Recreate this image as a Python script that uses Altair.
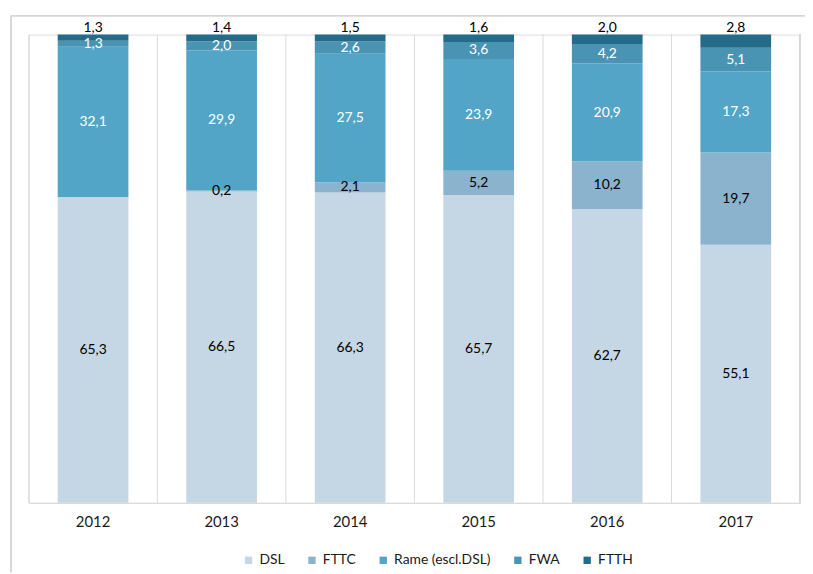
import altair as alt
import pandas as pd

years = ["2012", "2013", "2014", "2015", "2016", "2017"]
series = ["DSL", "FTTC", "Rame (escl.DSL)", "FWA", "FTTH"]
DSL = [65.3, 66.5, 66.3, 65.7, 62.7, 55.1]
FTTC = [0.0, 0.2, 2.1, 5.2, 10.2, 19.7]
RAME = [32.1, 29.9, 27.5, 23.9, 20.9, 17.3]
FWA = [1.3, 2.0, 2.6, 3.6, 4.2, 5.1]
FTTH = [1.3, 1.4, 1.5, 1.6, 2.0, 2.8]
colors = ["#c5d7e5", "#8cb3cd", "#52a5c6", "#4a94b3", "#246a89"]
label_colors = ["#000000", "#000000", "#ffffff", "#ffffff", "#000000"]

vals = [DSL, FTTC, RAME, FWA, FTTH]
rows = []
for i, y in enumerate(years):
    cum = 0.0
    for k, s in enumerate(series):
        v = vals[k][i]
        rows.append(dict(year=y, series=s, idx=k, value=v, y0=cum, y1=cum + v,
                         mid=cum + v / 2, lab=f"{v:.1f}".replace(".", ","),
                         lc=label_colors[k], top=(k == len(series) - 1)))
        cum += v
df = pd.DataFrame(rows)
yr_df = pd.DataFrame({"year": years})

W, H = 779, 473
font = "Lato"
step = W / len(years)

xenc = alt.X("year:N", title=None, sort=years,
             scale=alt.Scale(paddingInner=0.45, paddingOuter=0.225))
yscale = alt.Scale(domain=[0, 100])

grid = alt.Chart(yr_df).mark_rule(color="#d9d9d9", xOffset=-step / 2).encode(
    x=xenc, y=alt.value(0), y2=alt.value(H))

bars = alt.Chart(df).mark_bar().encode(
    x=xenc,
    y=alt.Y("y0:Q", scale=yscale, axis=None),
    y2="y1:Q",
    color=alt.Color("series:N", sort=series,
                    scale=alt.Scale(domain=series, range=colors),
                    legend=alt.Legend(title=None, orient="none", direction="horizontal",
                                      legendX=215, legendY=524,
                                      symbolType="square", symbolSize=55,
                                      symbolStrokeWidth=0, labelFontSize=14,
                                      labelFont=font, labelColor="#1a1a1a",
                                      columnPadding=20, labelOffset=4)),
    order=alt.Order("idx:Q"),
)

inner = alt.Chart(df).transform_filter(
    "datum.value > 0 && !datum.top"
).mark_text(fontSize=14, font=font).encode(
    x=xenc,
    y=alt.Y("mid:Q", scale=yscale, axis=None),
    text="lab:N",
    color=alt.Color("lc:N", scale=None),
)

toplab = alt.Chart(df).transform_filter("datum.top").mark_text(
    fontSize=14, font=font, dy=-7, color="#000000").encode(
    x=xenc,
    y=alt.Y("y1:Q", scale=yscale, axis=None),
    text="lab:N",
)

right_rule = alt.Chart(yr_df).mark_rule(color="#d9d9d9").encode(
    x=alt.value(W), y=alt.value(0), y2=alt.value(H))
frame_top = alt.Chart(yr_df).mark_rule(color="#d9d9d9").encode(
    x=alt.value(-18), x2=alt.value(W + 10), y=alt.value(-19))
frame_left = alt.Chart(yr_df).mark_rule(color="#d9d9d9").encode(
    x=alt.value(-18), y=alt.value(-19), y2=alt.value(H + 70))

chart = alt.layer(grid, bars, inner, toplab, right_rule, frame_top, frame_left).properties(
    width=W, height=H,
    autosize=alt.AutoSizeParams(type="none"),
    padding={"left": 21, "top": 24, "right": 5, "bottom": 69},
).configure_view(stroke=None).configure(background="white").configure_axisX(
    labelAngle=0, labelFontSize=15, labelColor="#1a1a1a", labelFont=font,
    labelPadding=12, ticks=False, domainColor="#d9d9d9", grid=False,
)

chart.save("out.html", embed_options={"renderer": "svg", "actions": False})
